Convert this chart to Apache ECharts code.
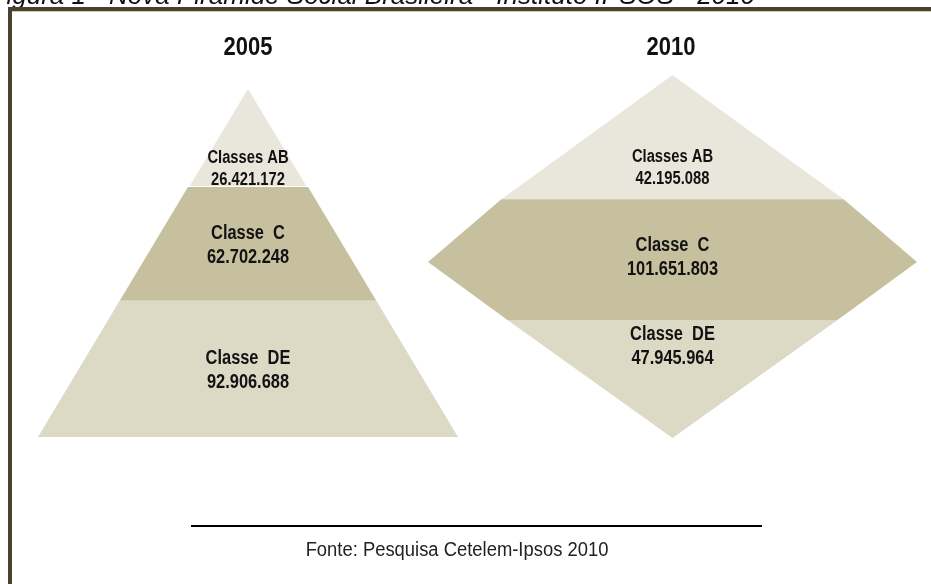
<!DOCTYPE html>
<html>
<head>
<meta charset="utf-8">
<script src="https://cdn.jsdelivr.net/npm/echarts@6/dist/echarts.min.js"></script>
<style>
html,body{margin:0;padding:0;background:#ffffff;}
#chart{width:931px;height:584px;}
</style>
</head>
<body>
<div id="chart"></div>
<script>
// ---------- data ----------
const years = ['2005', '2010'];
const classNames = ['Classes AB', 'Classe  C', 'Classe  DE'];
const values2005 = [26421172, 62702248, 92906688];
const values2010 = [42195088, 101651803, 47945964];
const sourceText = 'Fonte: Pesquisa Cetelem-Ipsos 2010';
const titleText = 'Figura 1 - Nova Pirâmide Social Brasileira - Instituto IPSOS - 2010';

// ---------- layout / style (not data) ----------
const FONT = '"Liberation Sans", Arial, sans-serif';
const NARROW_SCALE = 0.82;
const bandColors = ['#e9e7dc', '#c6c09f', '#dcd9c4'];
// outline of every band: [level (0 = top, 1 = bottom), half width (0..1)]
const outlines = {
  '2005': [
    [[0, 0], [0.286, 0.286]],
    [[0.286, 0.286], [0.611, 0.611]],
    [[0.611, 0.611], [1, 1]]
  ],
  '2010': [
    [[0, 0], [0.342, 0.70]],
    [[0.342, 0.70], [0.515, 1], [0.675, 0.675]],
    [[0.675, 0.675], [1, 0]]
  ]
};
const labelLevels = { '2005': [0.234, 0.452, 0.81], '2010': [0.256, 0.503, 0.747] };
const labelSizes = [18, 20, 20];

function fmt(v) {
  return String(v).replace(/\B(?=(\d{3})+(?!\d))/g, '.');
}

function makeSeries(year, values, gi) {
  return {
    type: 'custom',
    name: year,
    coordinateSystem: 'cartesian2d',
    xAxisIndex: gi,
    yAxisIndex: gi,
    silent: true,
    data: values.map((v, i) => [i, v]),
    renderItem: function (params, api) {
      const i = api.value(0);
      const v = api.value(1);
      const band = outlines[year][i];
      const pts = [];
      band.forEach(p => pts.push(api.coord([-p[1], p[0]])));
      band.slice().reverse().forEach(p => pts.push(api.coord([p[1], p[0]])));
      const c = api.coord([0, labelLevels[year][i]]);
      const fs = labelSizes[i];
      return {
        type: 'group',
        children: [
          {
            type: 'polygon',
            shape: { points: pts },
            style: {
              fill: bandColors[i],
              stroke: (year === '2005' && i === 0) ? '#ffffff' : null,
              lineWidth: (year === '2005' && i === 0) ? 2 : 0
            }
          },
          {
            type: 'text',
            x: c[0],
            y: c[1],
            scaleX: NARROW_SCALE,
            style: {
              text: classNames[i] + '\n' + fmt(v),
              fill: '#121212',
              font: 'bold ' + fs + 'px ' + FONT,
              align: 'center',
              verticalAlign: 'middle',
              lineHeight: fs + 4
            }
          }
        ]
      };
    }
  };
}

const chart = echarts.init(document.getElementById('chart'), null, { renderer: 'canvas' });
const option = {
  backgroundColor: '#ffffff',
  animation: false,
  grid: [
    { left: 38, top: 87, width: 420, height: 350 },
    { left: 428, top: 75, width: 489, height: 363 }
  ],
  xAxis: [
    { gridIndex: 0, type: 'value', min: -1, max: 1, show: false },
    { gridIndex: 1, type: 'value', min: -1, max: 1, show: false }
  ],
  yAxis: [
    { gridIndex: 0, type: 'value', min: 0, max: 1, inverse: true, show: false },
    { gridIndex: 1, type: 'value', min: 0, max: 1, inverse: true, show: false }
  ],
  graphic: [
    // cut-off caption above the frame
    { type: 'text', x: 755, y: 10, style: { text: titleText, font: 'italic 26px ' + FONT, fill: '#111', align: 'right', verticalAlign: 'bottom' } },
    // frame
    { type: 'rect', shape: { x: 8, y: 7, width: 930, height: 4 }, style: { fill: '#48422e' } },
    { type: 'rect', shape: { x: 12, y: 11, width: 925, height: 1 }, style: { fill: '#cfcbbb' } },
    { type: 'rect', shape: { x: 8, y: 7, width: 4, height: 590 }, style: { fill: '#48422e' } },
    // year headers
    { type: 'text', x: 248, y: 48, scaleX: 0.88, style: { text: years[0], font: 'bold 25px ' + FONT, fill: '#111', align: 'center', verticalAlign: 'middle' } },
    { type: 'text', x: 671, y: 48, scaleX: 0.88, style: { text: years[1], font: 'bold 25px ' + FONT, fill: '#111', align: 'center', verticalAlign: 'middle' } },
    // source rule and text
    { type: 'line', shape: { x1: 191, y1: 526, x2: 762, y2: 526 }, style: { stroke: '#000', lineWidth: 2 } },
    { type: 'text', x: 457, y: 550, scaleX: 0.92, style: { text: sourceText, font: '20px ' + FONT, fill: '#222', align: 'center', verticalAlign: 'middle' } }
  ],
  series: [
    makeSeries(years[0], values2005, 0),
    makeSeries(years[1], values2010, 1)
  ]
};
chart.setOption(option);
</script>
</body>
</html>
